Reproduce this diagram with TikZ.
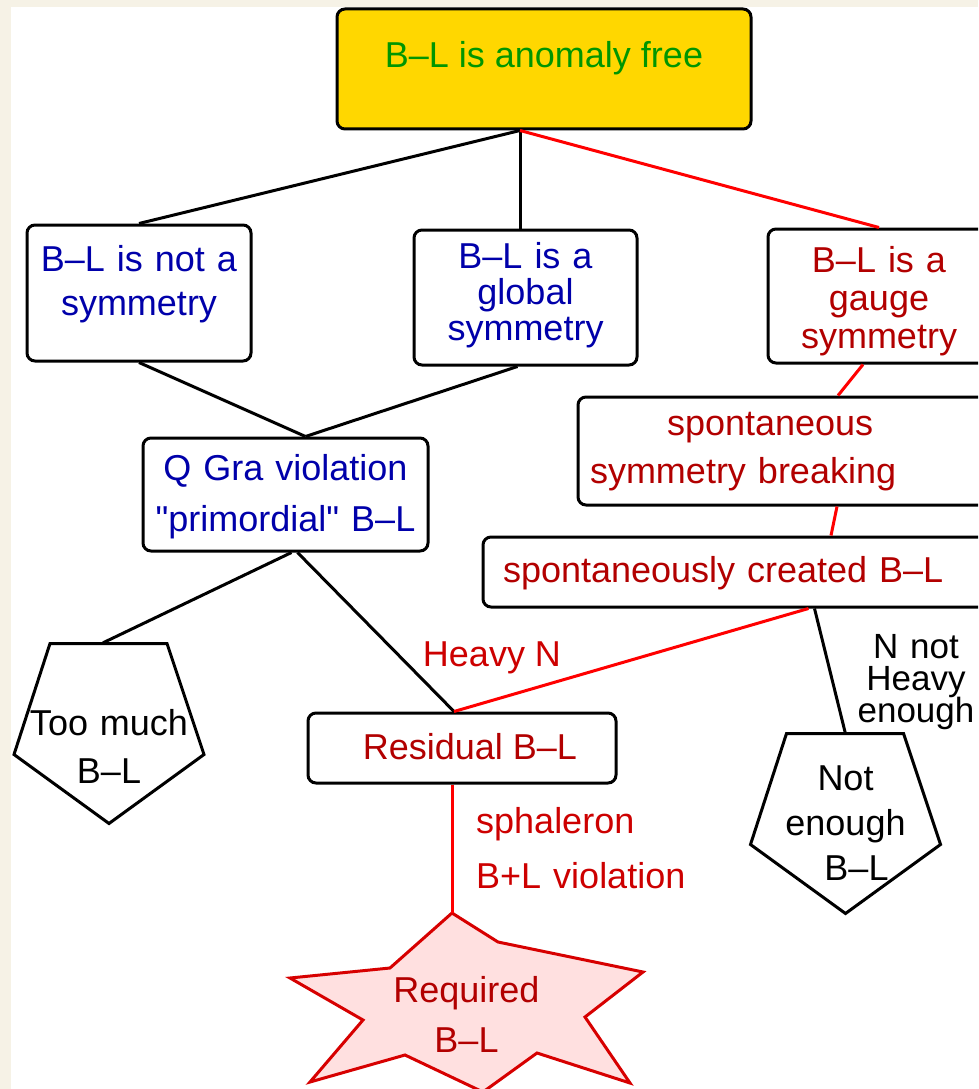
\documentclass[tikz,border=0pt]{standalone}
\usepackage{fontspec}
\setmainfont{Liberation Sans}[Ligatures=TeXOff]
\usepackage{xcolor}
\usetikzlibrary{calc,positioning}
\definecolor{freegreen}{RGB}{0,150,0}
\definecolor{symblue}{RGB}{0,0,170}
\definecolor{gaugered}{RGB}{178,0,0}
\definecolor{labelred}{RGB}{205,0,0}
\definecolor{linered}{RGB}{255,0,0}
\definecolor{anomgold}{RGB}{255,215,0}
\definecolor{starpink}{RGB}{255,224,224}
\definecolor{starred}{RGB}{215,0,0}
\definecolor{paper}{RGB}{246,242,230}
\newcommand{\boxfont}[1]{\fontsize{36}{#1}\selectfont}
\newcommand{\tightfont}{\fontsize{35}{32}\selectfont\setlength{\lineskiplimit}{-50pt}}
\newcommand{\pentaoutline}[1]{%
  \draw[outline] ($(#1)+(-59,-90)$) -- ($(#1)+(58,-90)$) -- ($(#1)+(95,21)$)
    -- ($(#1)+(0,90)$) -- ($(#1)+(-95,21)$) -- cycle;}

\begin{document}
\begin{tikzpicture}[
    x=1pt, y=-1pt,
    box/.style={rectangle,rounded corners=8pt,draw=black,line width=3pt,fill=white,
      align=center,inner sep=0pt,text height=26pt},
    wide/.style={box,align=left,inner xsep=12pt},
    plain/.style={inner sep=0pt,align=center,text height=26pt},
    link/.style={line width=3pt,black},
    redlink/.style={line width=3pt,linered},
    outline/.style={line width=3pt,black,line join=miter},
    starline/.style={line width=3pt,draw=starred,fill=starpink},
    steplabel/.style={inner sep=0pt,text=labelred,font=\boxfont{55}}
  ]
    \useasboundingbox (0,0) rectangle (978,1089);
    \clip (0,0) rectangle (978,1089);
    \fill[paper] (0,0) rectangle (978,1089);
    \fill[white] (11,7) rectangle (978,1089);

    \node[box,fill=anomgold,text=freegreen,font=\boxfont{44},minimum width=414pt,
      minimum height=120pt,text depth=28pt] (anom) at (544,69) {B–L is anomaly free};
    \node[box,text=symblue,font=\boxfont{44},text width=224pt,minimum height=136pt,
      text depth=70pt] (notsym) at (139,293) {B–L is not a\\symmetry};
    \node[box,text=symblue,font=\boxfont{36},text width=223pt,minimum height=135pt,
      text depth=85pt] (global) at (525.5,297.5) {B–L is a\\global\\symmetry};
    \node[box,text=gaugered,font=\boxfont{38},text width=222pt,minimum height=134pt,
      text depth=74pt] (gauge) at (879,296) {B–L is a\\gauge\\symmetry};
    \node[wide,text=gaugered,font=\boxfont{48},text width=398pt,minimum height=108pt,
      text depth=58pt] (ssb) at (789,451) {\hspace*{77pt}spontaneous\\symmetry breaking};
    \node[wide,text=gaugered,font=\boxfont{44},inner xsep=20pt,text width=477pt,
      minimum height=70pt,text depth=6pt] (created) at (741.5,572) {spontaneously created B–L};
    \node[box,text=symblue,font=\boxfont{51},text width=285pt,minimum height=113pt,
      text depth=55pt] (qgra) at (285.5,494.5) {Q Gra violation\\"primordial" B–L};
    \node[box,text=gaugered,font=\boxfont{44},minimum width=308pt,minimum height=70pt,
      text depth=4pt] (resid) at (462,748) {\hspace*{16pt}Residual B–L};

    % outcomes
    \node[plain,font=\boxfont{48},text width=190pt,minimum height=181pt,
      text depth=23pt] (toomuch) at (109,733.5) {Too much\\B–L};
    \pentaoutline{toomuch}
    \node[plain,font=\boxfont{45},text width=191pt,minimum height=179pt,
      text depth=93pt] (notenough) at (845.5,823.5) {Not\\enough\\\hspace*{22pt}B–L};
    \pentaoutline{notenough}
    \filldraw[starline,shift={(466.5,1001)}] (-14.5,-88) -- (31.5,-59) -- (176.5,-29)
      -- (118.5,16) -- (163.5,82) -- (70.5,52) -- (16.5,91) -- (-61.5,54)
      -- (-156.5,81) -- (-103.5,19) -- (-176.5,-23) -- (-76.5,-33) -- cycle;
    \node[plain,text=gaugered,font=\boxfont{50},text width=353pt,minimum height=176pt,
      text depth=24pt] (req) at (466.5,1001) {Required\\B–L};

    % labels
    \node[steplabel,anchor=base] (heavy) at (492,666) {Heavy N};
    \node[steplabel,anchor=north west,align=left,text width=230pt,text height=26pt]
      (sphal) at (476,807) {sphaleron\\B+L violation};
    \node[inner sep=0pt,align=center,text width=130pt,text height=26pt,anchor=north,
      font=\tightfont] (nheavy) at (916,632) {N not\\Heavy\\enough};

    \draw[link] ([xshift=-24pt]anom.south) -- (notsym.north);
    \draw[link] ([xshift=-24pt]anom.south) -- ([xshift=-24pt]anom.south |- global.north);
    \draw[redlink] ([xshift=-24pt]anom.south) -- (gauge.north);
    \draw[link] (notsym.south) -- ([xshift=20pt]qgra.north);
    \draw[link] ([xshift=-8pt]global.south) -- ([xshift=20pt]qgra.north);
    \draw[redlink] ([xshift=-16pt]gauge.south) -- ([xshift=49pt]ssb.north);
    \draw[redlink] ([xshift=48pt]ssb.south) -- ([xshift=89.5pt]created.north);
    \draw[link] ([xshift=6pt]qgra.south) -- ([xshift=-6pt]toomuch.north);
    \draw[link] ([xshift=12pt]qgra.south) -- ([xshift=-8pt]resid.north);
    \draw[redlink] ([xshift=67pt]created.south) -- ([xshift=-8pt]resid.north);
    \draw[link] ([xshift=73pt]created.south) -- (notenough.north);
    \draw[redlink] ([xshift=-10pt]resid.south) -- ([xshift=-14.5pt]req.north);
  \end{tikzpicture}
\end{document}
